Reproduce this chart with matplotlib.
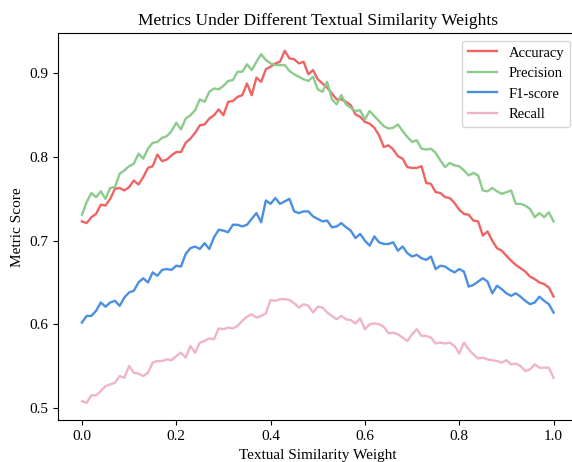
import numpy as np
import matplotlib
matplotlib.use("Agg")
import matplotlib.pyplot as plt

plt.rcParams["font.family"] = ["Liberation Serif", "DejaVu Serif"]

# textual similarity weight, 0.00 .. 1.00 in steps of 0.01
weights = np.linspace(0, 1, 101)

accuracy = [
    0.723, 0.721, 0.728, 0.732, 0.743, 0.742, 0.750, 0.762, 0.763, 0.760,
    0.764, 0.772, 0.767, 0.776, 0.787, 0.789, 0.803, 0.795, 0.797, 0.802,
    0.806, 0.806, 0.817, 0.822, 0.829, 0.838,
    0.839, 0.846, 0.850, 0.857, 0.850, 0.866, 0.867, 0.872, 0.874, 0.888,
    0.874, 0.895, 0.890, 0.905, 0.908, 0.912, 0.914, 0.927, 0.918, 0.917,
    0.912, 0.914, 0.899, 0.904, 0.893,
    0.888, 0.883, 0.876, 0.869, 0.869, 0.866, 0.862, 0.851, 0.848, 0.842,
    0.840, 0.835, 0.826, 0.812, 0.814, 0.809, 0.801, 0.798, 0.788, 0.787,
    0.787, 0.789, 0.769, 0.768, 0.758,
    0.757, 0.752, 0.751, 0.745, 0.737, 0.732, 0.731, 0.724, 0.723, 0.706,
    0.711, 0.700, 0.691, 0.688, 0.682, 0.676, 0.671, 0.667, 0.663, 0.657,
    0.654, 0.650, 0.648, 0.644, 0.633,
]

precision = [
    0.731, 0.746, 0.757, 0.752, 0.759, 0.750, 0.763, 0.764, 0.780, 0.784,
    0.789, 0.792, 0.804, 0.798, 0.810, 0.817, 0.818, 0.823, 0.825, 0.831,
    0.841, 0.833, 0.846, 0.850, 0.856, 0.869,
    0.866, 0.878, 0.882, 0.881, 0.885, 0.891, 0.892, 0.902, 0.902, 0.911,
    0.904, 0.914, 0.923, 0.916, 0.912, 0.910, 0.910, 0.910, 0.903, 0.899,
    0.896, 0.893, 0.891, 0.896, 0.881,
    0.878, 0.890, 0.869, 0.863, 0.874, 0.863, 0.859, 0.855, 0.856, 0.845,
    0.855, 0.849, 0.843, 0.837, 0.834, 0.835, 0.839, 0.831, 0.824, 0.818,
    0.820, 0.810, 0.809, 0.810, 0.805,
    0.796, 0.788, 0.793, 0.790, 0.789, 0.784, 0.778, 0.781, 0.778, 0.760,
    0.759, 0.763, 0.759, 0.756, 0.758, 0.760, 0.744, 0.744, 0.742, 0.738,
    0.728, 0.733, 0.728, 0.734, 0.723,
]

f1_score = [
    0.602, 0.610, 0.610, 0.616, 0.626, 0.621, 0.626, 0.628, 0.622, 0.632,
    0.638, 0.640, 0.650, 0.655, 0.650, 0.662, 0.658, 0.665, 0.666, 0.665,
    0.670, 0.669, 0.684, 0.691, 0.693, 0.690,
    0.697, 0.690, 0.704, 0.713, 0.712, 0.710, 0.719, 0.719, 0.717, 0.719,
    0.726, 0.733, 0.722, 0.748, 0.744, 0.751, 0.744, 0.747, 0.750, 0.735,
    0.733, 0.735, 0.735, 0.729, 0.726,
    0.723, 0.724, 0.716, 0.717, 0.721, 0.716, 0.712, 0.703, 0.708, 0.700,
    0.694, 0.705, 0.698, 0.696, 0.696, 0.698, 0.688, 0.693, 0.685, 0.681,
    0.683, 0.679, 0.677, 0.681, 0.666,
    0.670, 0.669, 0.665, 0.662, 0.666, 0.663, 0.645, 0.647, 0.651, 0.655,
    0.651, 0.637, 0.646, 0.642, 0.637, 0.634, 0.637, 0.633, 0.628, 0.624,
    0.626, 0.633, 0.628, 0.624, 0.614,
]

recall = [
    0.508, 0.506, 0.515, 0.515, 0.520, 0.526, 0.528, 0.530, 0.538, 0.536,
    0.550, 0.542, 0.541, 0.538, 0.542, 0.554, 0.556, 0.556, 0.558, 0.557,
    0.562, 0.566, 0.560, 0.574, 0.566, 0.578,
    0.580, 0.583, 0.582, 0.595, 0.594, 0.596, 0.595, 0.598, 0.604, 0.609,
    0.612, 0.608, 0.610, 0.613, 0.629, 0.628, 0.630, 0.630, 0.629, 0.625,
    0.620, 0.624, 0.622, 0.614, 0.621,
    0.620, 0.614, 0.610, 0.606, 0.610, 0.606, 0.605, 0.601, 0.607, 0.594,
    0.600, 0.601, 0.600, 0.597, 0.589, 0.590, 0.588, 0.584, 0.580, 0.588,
    0.594, 0.586, 0.586, 0.584, 0.577,
    0.578, 0.577, 0.578, 0.574, 0.565, 0.578, 0.570, 0.564, 0.559, 0.560,
    0.558, 0.557, 0.556, 0.554, 0.557, 0.552, 0.553, 0.550, 0.544, 0.546,
    0.552, 0.548, 0.548, 0.548, 0.536,
]

series = [
    ("Accuracy", accuracy, "#ee6464"),
    ("Precision", precision, "#8ccb8c"),
    ("F1-score", f1_score, "#4a8fe0"),
    ("Recall", recall, "#f0b4c8"),
]

fig = plt.figure(figsize=(5.72, 4.62), dpi=100)
# axes run past the right edge of the canvas, as in the reference
ax = fig.add_axes([0.102, 0.090, 0.907, 0.838])
ax.spines["right"].set_visible(False)

for name, vals, col in series:
    ax.plot(weights, vals, color=col, linewidth=1.7, label=name)

ax.set_title("Metrics Under Different Textual Similarity Weights", fontsize=12.5)
ax.set_xlabel("Textual Similarity Weight", fontsize=11)
ax.set_ylabel("Metric Score", fontsize=11)
ax.set_xticks([0.0, 0.2, 0.4, 0.6, 0.8, 1.0])
ax.set_yticks([0.5, 0.6, 0.7, 0.8, 0.9])
ax.tick_params(labelsize=11)
ax.legend(loc="upper right", fontsize=10.5)

fig.savefig("out.png", dpi=100)
